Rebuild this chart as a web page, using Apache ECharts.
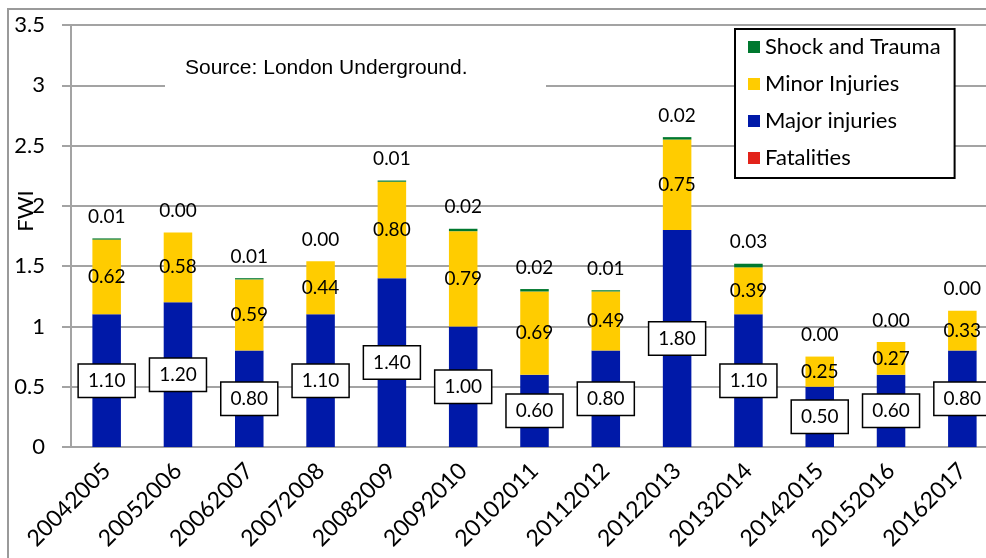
<!DOCTYPE html>
<html>
<head>
<meta charset="utf-8">
<script src="https://cdn.jsdelivr.net/npm/echarts@6/dist/echarts.min.js"></script>
<style>
  html, body { margin: 0; padding: 0; background: #fff; }
  #chart { width: 986px; height: 558px; }
</style>
</head>
<body>
<div id="chart"></div>
<script>
// financial years as shown on the axis
var years = ['20042005', '20052006', '20062007', '20072008', '20082009', '20092010',
    '20102011', '20112012', '20122013', '20132014', '20142015', '20152016', '20162017'];

// FWI components
var fatalities = [0, 0, 0, 0, 0, 0, 0, 0, 0, 0, 0, 0, 0];
var majorInjuries = [1.10, 1.20, 0.80, 1.10, 1.40, 1.00, 0.60, 0.80, 1.80, 1.10, 0.50, 0.60, 0.80];
var minorInjuries = [0.62, 0.58, 0.59, 0.44, 0.80, 0.79, 0.69, 0.49, 0.75, 0.39, 0.25, 0.27, 0.33];
var shockTrauma = [0.01, 0.00, 0.01, 0.00, 0.01, 0.02, 0.02, 0.01, 0.02, 0.03, 0.00, 0.00, 0.00];

var legendOrder = ['Shock and Trauma', 'Minor Injuries', 'Major injuries', 'Fatalities'];

var font = 'Lato';
var gridColor = '#a3a3a3';

function fmt(p) {
    return p.value.toFixed(2);
}

var option = {
    animation: false,
    backgroundColor: '#fff',
    grid: {
        left: 71,
        top: 25,
        width: 927,
        height: 422,
        containLabel: false,
        outerBoundsMode: 'none'
    },
    legend: {
        data: legendOrder,
        orient: 'vertical',
        left: 735,
        top: 29,
        icon: 'rect',
        itemWidth: 12,
        itemHeight: 12,
        itemGap: 13,
        padding: [6, 14, 8, 13],
        borderColor: '#000',
        borderWidth: 2,
        backgroundColor: '#fff',
        textStyle: {
            fontFamily: font,
            fontSize: 22,
            color: '#000',
            lineHeight: 24
        }
    },
    xAxis: [{
        type: 'category',
        data: years,
        axisLine: { lineStyle: { color: gridColor, width: 2 } },
        axisTick: { length: 8, lineStyle: { color: gridColor, width: 2 } },
        axisLabel: {
            rotate: 45,
            margin: 20,
            interval: 0,
            fontFamily: font,
            fontSize: 23,
            color: '#000'
        }
    }],
    yAxis: [{
        type: 'value',
        min: 0,
        max: 3.5,
        interval: 0.5,
        axisLine: { show: true, lineStyle: { color: gridColor, width: 2 } },
        axisTick: { show: true, length: 9, lineStyle: { color: gridColor, width: 2 } },
        splitLine: { lineStyle: { color: gridColor, width: 2 } },
        axisLabel: {
            margin: 26,
            fontFamily: font,
            fontSize: 22,
            color: '#000'
        }
    }],
    graphic: [
        {
            // outer chart border
            type: 'rect',
            z: 1,
            shape: { x: 8, y: 9, width: 1100, height: 700 },
            style: { fill: 'none', stroke: '#9a9a9a', lineWidth: 2 }
        },
        {
            type: 'rect',
            z: 50,
            shape: { x: 165, y: 48, width: 381, height: 50 },
            style: { fill: '#fff' }
        },
        {
            type: 'text',
            z: 51,
            left: 185,
            top: 58,
            style: {
                text: 'Source: London Underground.',
                font: '21px "Liberation Sans", Arial, sans-serif',
                fill: '#000'
            }
        },
        {
            type: 'text',
            z: 51,
            x: 26,
            y: 211,
            rotation: Math.PI / 2,
            style: {
                text: 'FWI',
                font: '22px Lato',
                fill: '#000',
                align: 'center',
                verticalAlign: 'middle'
            }
        }
    ],
    series: [
        {
            name: 'Fatalities',
            type: 'bar',
            stack: 'fwi',
            barWidth: '40%',
            itemStyle: { color: '#e2231a' },
            data: fatalities
        },
        {
            name: 'Major injuries',
            type: 'bar',
            stack: 'fwi',
            barWidth: '40%',
            itemStyle: { color: '#0019a8' },
            label: {
                show: true,
                position: 'inside',
                formatter: fmt,
                fontFamily: font,
                fontSize: 19,
                color: '#000',
                backgroundColor: '#fff',
                borderColor: '#000',
                borderWidth: 1.5,
                padding: [7, 9, 6, 9]
            },
            data: majorInjuries
        },
        {
            name: 'Minor Injuries',
            type: 'bar',
            stack: 'fwi',
            barWidth: '40%',
            itemStyle: { color: '#ffcc00' },
            label: {
                show: true,
                position: 'inside',
                formatter: fmt,
                fontFamily: font,
                fontSize: 19,
                color: '#000'
            },
            data: minorInjuries
        },
        {
            name: 'Shock and Trauma',
            type: 'bar',
            stack: 'fwi',
            barWidth: '40%',
            itemStyle: { color: '#00782f' },
            label: {
                show: true,
                position: 'top',
                distance: 12,
                formatter: fmt,
                fontFamily: font,
                fontSize: 19,
                color: '#000'
            },
            data: shockTrauma
        }
    ]
};

var myChart = echarts.init(document.getElementById('chart'));
myChart.setOption(option);
</script>
</body>
</html>
